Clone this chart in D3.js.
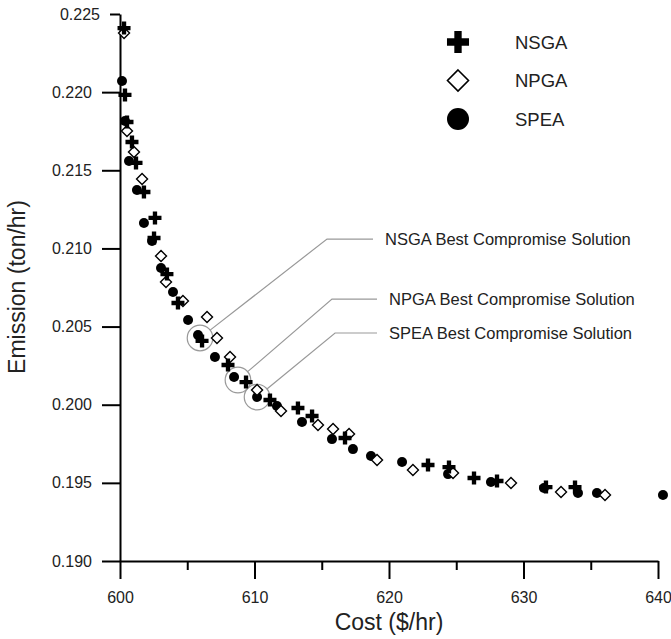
<!DOCTYPE html>
<html>
<head>
<meta charset="utf-8">
<script src="https://cdn.jsdelivr.net/npm/d3@7"></script>
<style>
  body { margin: 0; background: #fff; }
  text { font-family: "Liberation Sans", Arial, sans-serif; }
</style>
</head>
<body>
<script>
// series values
var nsgaCost = [600.30, 600.37, 600.52, 600.89, 601.19, 601.78, 602.60, 602.53, 603.49, 604.31,
                606.10, 608.03, 609.37, 611.15, 613.23, 614.28, 616.73, 622.90, 624.46, 626.32,
                628.03, 631.67, 633.83];
var nsgaEmis = [0.22410, 0.21982, 0.21809, 0.21681, 0.21547, 0.21361, 0.21195, 0.21067, 0.20836, 0.20651,
                0.20408, 0.20254, 0.20145, 0.20030, 0.19979, 0.19928, 0.19787, 0.19614, 0.19601, 0.19531,
                0.19512, 0.19473, 0.19473];

var npgaCost = [600.30, 600.52, 601.04, 601.64, 603.05, 603.42, 604.68, 606.47, 607.21, 608.18,
                610.19, 611.97, 614.72, 615.84, 617.03, 619.11, 621.78, 624.76, 629.07, 632.79,
                636.06];
var npgaEmis = [0.22378, 0.21751, 0.21617, 0.21444, 0.20951, 0.20785, 0.20664, 0.20561, 0.20427, 0.20305,
                0.20094, 0.19960, 0.19870, 0.19844, 0.19812, 0.19646, 0.19582, 0.19563, 0.19499, 0.19441,
                0.19422];

var speaCost = [600.15, 600.37, 600.67, 601.26, 601.78, 602.38, 603.05, 603.94, 605.06, 605.80,
                607.06, 608.48, 610.19, 611.67, 613.53, 615.76, 617.32, 618.66, 620.97, 624.39,
                627.58, 631.52, 634.05, 635.46, 640.37];
var speaEmis = [0.22071, 0.21815, 0.21559, 0.21374, 0.21163, 0.21047, 0.20875, 0.20721, 0.20542, 0.20446,
                0.20305, 0.20177, 0.20049, 0.19992, 0.19889, 0.19780, 0.19716, 0.19672, 0.19633, 0.19556,
                0.19505, 0.19467, 0.19435, 0.19435, 0.19422];

// tick labels
var xTicks = [600, 610, 620, 630, 640];
var xMinor = [605, 615, 625, 635];
var yTicks = [0.190, 0.195, 0.200, 0.205, 0.210, 0.215, 0.220, 0.225];

// best compromise call-outs
var bestNames = ["NSGA", "NPGA", "SPEA"];
var bestCost = [605.95, 608.77, 610.19];
var bestEmis = [0.20427, 0.20158, 0.20049];
var elbowCost = [615.39, 615.76, 615.99];
var elbowEmis = [0.21060, 0.20676, 0.20459];
var endCost = [618.81, 619.11, 619.11];

var legendNames = ["NSGA", "NPGA", "SPEA"];

// layout
var width = 671, height = 639;
var plot = { left: 120, right: 658, top: 14, bottom: 561 };

var svg = d3.select("body")
            .append("svg")
            .attr("width", width)
            .attr("height", height);

var x = d3.scaleLinear().domain([600, 640]).range([plot.left, plot.right]);
var y = d3.scaleLinear().domain([0.190, 0.225]).range([plot.bottom, plot.top]);

function diamond(h) {
  return "M0," + (-h) + "L" + h + ",0L0," + h + "L" + (-h) + ",0Z";
}
var crossPath = d3.symbol().type(d3.symbolCross).size(94)();
var crossBig = d3.symbol().type(d3.symbolCross).size(270)();

// axes
var xAxis = svg.append("g")
               .attr("transform", "translate(0," + plot.bottom + ")")
               .call(d3.axisBottom(x).tickValues(xTicks).tickFormat(d3.format("d"))
                       .tickSize(18).tickSizeOuter(0).tickPadding(13));
var xMinorAxis = svg.append("g")
                    .attr("transform", "translate(0," + plot.bottom + ")")
                    .call(d3.axisBottom(x).tickValues(xMinor).tickFormat("").tickSize(9));
xMinorAxis.select(".domain").remove();

var yAxis = svg.append("g")
               .attr("transform", "translate(" + plot.left + ",0)")
               .call(d3.axisLeft(y).tickValues(yTicks).tickFormat(d3.format(".3f"))
                       .tickSize(18).tickSizeOuter(0).tickPadding(10));

// top tick is drawn shorter in the original
yAxis.selectAll(".tick")
     .filter(function(d) { return d === 0.225; })
     .call(function(t) {
       t.select("line").attr("x2", -10);
       t.select("text").attr("x", -20);
     });

svg.selectAll(".domain, .tick line")
   .attr("stroke", "#000")
   .attr("stroke-width", 2);
svg.selectAll(".tick text")
   .attr("fill", "#222")
   .style("font-size", "16px");

// axis titles
svg.append("text")
   .attr("transform", "translate(25,287) rotate(-90)")
   .attr("text-anchor", "middle")
   .attr("fill", "#222")
   .style("font-size", "23px")
   .text("Emission (ton/hr)");

svg.append("text")
   .attr("x", 389)
   .attr("y", 630)
   .attr("text-anchor", "middle")
   .attr("fill", "#222")
   .style("font-size", "23px")
   .text("Cost ($/hr)");

// call-out circles and leader lines
bestNames.forEach(function(name, i) {
  var cx = x(bestCost[i]), cy = y(bestEmis[i]);
  var ex = x(elbowCost[i]), ey = y(elbowEmis[i]);
  var r = 12.8;
  var dx = ex - cx, dy = ey - cy, len = Math.sqrt(dx * dx + dy * dy);
  svg.append("circle")
     .attr("cx", cx).attr("cy", cy).attr("r", r)
     .attr("fill", "none").attr("stroke", "#999").attr("stroke-width", 1.2);
  svg.append("path")
     .attr("d", d3.line()([[cx + r * dx / len, cy + r * dy / len], [ex, ey], [x(endCost[i]), ey]]))
     .attr("fill", "none").attr("stroke", "#999").attr("stroke-width", 1.2);
  svg.append("text")
     .attr("x", x(endCost[i]) + 12)
     .attr("y", ey + 6)
     .attr("fill", "#222")
     .style("font-size", "16.5px")
     .text(name + " Best Compromise Solution");
});

// SPEA circles
svg.append("g")
   .selectAll("circle")
   .data(d3.range(speaCost.length))
   .enter()
   .append("circle")
   .attr("cx", function(i) { return x(speaCost[i]); })
   .attr("cy", function(i) { return y(speaEmis[i]); })
   .attr("r", 5)
   .attr("fill", "#000");

// NPGA diamonds
svg.append("g")
   .selectAll("path")
   .data(d3.range(npgaCost.length))
   .enter()
   .append("path")
   .attr("d", diamond(5.5))
   .attr("transform", function(i) {
     return "translate(" + x(npgaCost[i]) + "," + y(npgaEmis[i]) + ")";
   })
   .attr("fill", "#fff")
   .attr("stroke", "#000")
   .attr("stroke-width", 1.4);

// NSGA crosses
svg.append("g")
   .selectAll("path")
   .data(d3.range(nsgaCost.length))
   .enter()
   .append("path")
   .attr("d", crossPath)
   .attr("transform", function(i) {
     return "translate(" + x(nsgaCost[i]) + "," + y(nsgaEmis[i]) + ")";
   })
   .attr("fill", "#000");

// legend
var legend = svg.append("g").attr("transform", "translate(458,42)");
legendNames.forEach(function(name, i) {
  var row = legend.append("g").attr("transform", "translate(0," + (i * 38.5) + ")");
  if (i === 0) {
    row.append("path").attr("d", crossBig).attr("fill", "#000");
  } else if (i === 1) {
    row.append("path").attr("d", diamond(10.5))
       .attr("fill", "#fff").attr("stroke", "#000").attr("stroke-width", 1.6);
  } else {
    row.append("circle").attr("r", 11).attr("fill", "#000");
  }
  row.append("text")
     .attr("x", 57)
     .attr("y", 6.5)
     .attr("fill", "#222")
     .style("font-size", "18.5px")
     .text(name);
});
</script>
</body>
</html>
